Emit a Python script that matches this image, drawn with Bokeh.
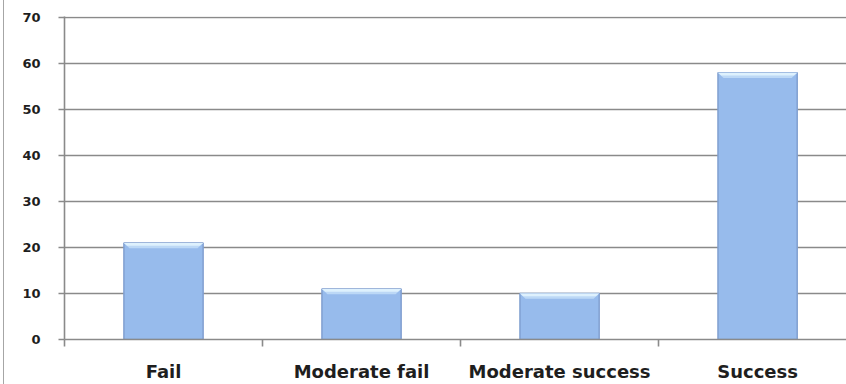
from bokeh.plotting import figure
from bokeh.models import Range1d, FixedTicker, Div
from bokeh.layouts import row
from bokeh.embed import file_html
from bokeh.resources import INLINE

# Outcome counts per category
categories = ["Fail", "Moderate fail", "Moderate success", "Success"]
counts = [21, 11, 10, 58]
y_ticks = [0, 10, 20, 30, 40, 50, 60, 70]

centers = [i + 0.5 for i in range(len(categories))]
bounds = list(range(len(categories) + 1))

GRID = "#8a8a8a"
TEXT = "#1e1e1e"
FONT = "DejaVu Sans"

p = figure(
    width=842, height=384,
    output_backend="svg", toolbar_location=None,
    x_range=Range1d(0, 3.949), y_range=Range1d(0, 70.2),
    min_border_left=60, min_border_right=0,
    min_border_top=16, min_border_bottom=39,
)
p.outline_line_color = None
p.background_fill_color = "white"
p.border_fill_color = "white"

# horizontal grid
p.xgrid.visible = False
p.ygrid.grid_line_color = GRID
p.ygrid.grid_line_width = 1.6
p.ygrid.ticker = FixedTicker(ticks=y_ticks)

# bars
bar_w = 0.4
p.vbar(x=centers, top=counts, width=bar_w, bottom=0,
       fill_color="#97bbec", line_color="#809fd0", line_width=1.5)


def bevel(depth, inset):
    """Trapezoid strips along the top edge of every bar."""
    xs, ys = [], []
    for c, v in zip(centers, counts):
        l, r = c - bar_w / 2, c + bar_w / 2
        xs.append([l, r, r - inset, l + inset])
        ys.append([v, v, v - depth, v - depth])
    return xs, ys


# soft highlight along the top of each bar
xs, ys = bevel(1.15, 0.028)
p.patches(xs=xs, ys=ys, fill_color="#bcd8f6", line_color=None)
xs, ys = bevel(0.6, 0.016)
p.patches(xs=xs, ys=ys, fill_color="#def1fd", line_color=None)

# y axis
p.yaxis.ticker = FixedTicker(ticks=y_ticks, minor_ticks=[])
p.yaxis.axis_line_color = GRID
p.yaxis.axis_line_width = 1.6
p.yaxis.major_tick_line_color = GRID
p.yaxis.major_tick_line_width = 1.6
p.yaxis.major_tick_out = 6
p.yaxis.major_tick_in = 0
p.yaxis.minor_tick_line_color = None
p.yaxis.major_label_standoff = 18
p.yaxis.major_label_text_font = FONT
p.yaxis.major_label_text_font_style = "bold"
p.yaxis.major_label_text_font_size = "13px"
p.yaxis.major_label_text_color = TEXT

# x axis: labels at category centres, tick marks at category boundaries
p.xaxis.ticker = FixedTicker(ticks=centers, minor_ticks=bounds)
p.xaxis.major_label_overrides = {c: name for c, name in zip(centers, categories)}
p.xaxis.axis_line_color = GRID
p.xaxis.axis_line_width = 1.6
p.xaxis.major_tick_line_color = None
p.xaxis.minor_tick_line_color = GRID
p.xaxis.minor_tick_line_width = 1.6
p.xaxis.minor_tick_out = 7
p.xaxis.minor_tick_in = 0
p.xaxis.major_label_standoff = 14
p.xaxis.major_label_text_font = FONT
p.xaxis.major_label_text_font_style = "bold"
p.xaxis.major_label_text_font_size = "18px"
p.xaxis.major_label_text_color = TEXT

# thin frame edge on the far left
edge = Div(width=4, height=384, margin=0,
           styles={"border-right": "1px solid #a6a6a6", "box-sizing": "border-box"})

layout = row(edge, p, spacing=0)

open("out.html", "w").write(file_html(layout, INLINE))
